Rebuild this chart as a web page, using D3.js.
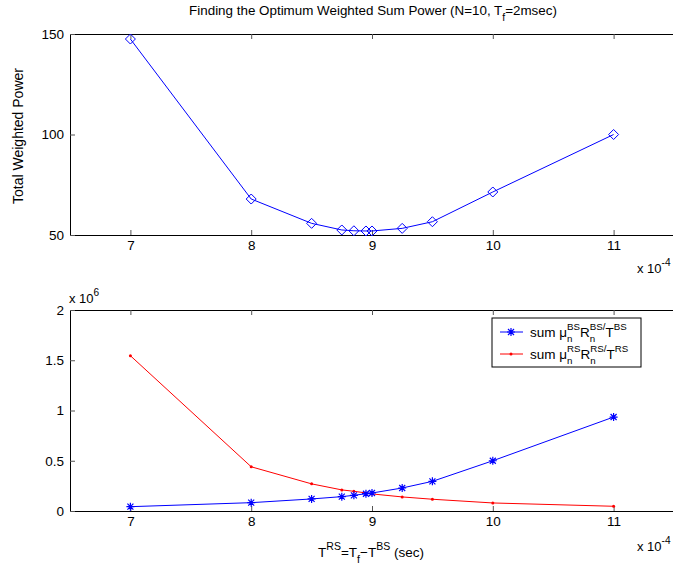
<!DOCTYPE html>
<html>
<head>
<meta charset="utf-8">
<script src="https://cdn.jsdelivr.net/npm/d3@7"></script>
<style>
  body { margin: 0; background: #fff; }
  svg { font-family: "Liberation Sans", Arial, sans-serif; }
  .tick line { stroke: #555; }
</style>
</head>
<body>
<svg width="673" height="569"></svg>
<script>
// x values are in units of 1e-4 sec
var tRS = [7, 8, 8.5, 8.75, 8.85, 8.95, 9, 9.25, 9.5, 10, 11];
var totalPower = [147.5, 67.9, 55.8, 52.5, 52.1, 52.0, 52.0, 53.3, 56.6, 71.4, 100];
// bottom plot, units of 1e6
var sumBS = [0.043, 0.083, 0.12, 0.143, 0.156, 0.172, 0.179, 0.229, 0.295, 0.5, 0.935];
var sumRS = [1.545, 0.44, 0.27, 0.21, 0.196, 0.18, 0.17, 0.14, 0.117, 0.08, 0.047];
var xTicks = [7, 8, 9, 10, 11];
var topYTicks = [50, 100, 150];
var botYTicks = [0, 0.5, 1, 1.5, 2];

var svg = d3.select("svg");
var left = 70, right = 674;

var x = d3.scaleLinear().domain([6.5, 11.5]).range([left, right]);
var y1 = d3.scaleLinear().domain([50, 150]).range([235, 34]);
var y2 = d3.scaleLinear().domain([0, 2]).range([511, 310]);

function frame(y, yTicks, fmt) {
    var g = svg.append("g");
    var yr = y.range();
    g.append("g").attr("transform", "translate(0," + yr[0] + ")")
        .call(d3.axisBottom(x).tickValues(xTicks).tickSizeInner(-5).tickSizeOuter(0).tickPadding(5).tickFormat(d3.format("d")));
    g.append("g").attr("transform", "translate(0," + yr[1] + ")")
        .call(d3.axisTop(x).tickValues(xTicks).tickSizeInner(-5).tickSizeOuter(0).tickFormat(""));
    g.append("g").attr("transform", "translate(" + left + ",0)")
        .call(d3.axisLeft(y).tickValues(yTicks).tickSizeInner(-5).tickSizeOuter(0).tickPadding(6).tickFormat(fmt));
    g.selectAll(".domain").attr("stroke", "#000").attr("stroke-width", 1);
    g.selectAll("text").attr("font-size", 13.5).attr("fill", "#000")
        .attr("font-family", "Liberation Sans, Arial, sans-serif");
    return g;
}

frame(y1, topYTicks, d3.format("d"));
frame(y2, botYTicks, function(d) { return d; });

// top plot
svg.append("path").datum(tRS)
    .attr("fill", "none").attr("stroke", "blue").attr("stroke-width", 1)
    .attr("d", d3.line().x(function(d) { return x(d); }).y(function(d, i) { return y1(totalPower[i]); }));
svg.append("g").selectAll("path").data(tRS).enter().append("path")
    .attr("transform", function(d, i) { return "translate(" + x(d) + "," + y1(totalPower[i]) + ")"; })
    .attr("d", "M0,-5L5,0L0,5L-5,0Z")
    .attr("fill", "none").attr("stroke", "blue").attr("stroke-width", 1);

// bottom plot
function star(g) {
    g.append("path").attr("d", "M-4,0H4M0,-4V4M-3,-3L3,3M-3,3L3,-3")
        .attr("stroke", "blue").attr("stroke-width", 1.2);
}
svg.append("path").datum(tRS)
    .attr("fill", "none").attr("stroke", "red").attr("stroke-width", 1)
    .attr("d", d3.line().x(function(d) { return x(d); }).y(function(d, i) { return y2(sumRS[i]); }));
svg.append("g").selectAll("circle").data(tRS).enter().append("circle")
    .attr("cx", function(d) { return x(d); })
    .attr("cy", function(d, i) { return y2(sumRS[i]); })
    .attr("r", 1.5).attr("fill", "red");
svg.append("path").datum(tRS)
    .attr("fill", "none").attr("stroke", "blue").attr("stroke-width", 1)
    .attr("d", d3.line().x(function(d) { return x(d); }).y(function(d, i) { return y2(sumBS[i]); }));
svg.append("g").selectAll("g").data(tRS).enter().append("g")
    .attr("transform", function(d, i) { return "translate(" + x(d) + "," + y2(sumBS[i]) + ")"; })
    .each(function() { star(d3.select(this)); });

// text with super/subscripts, laid out piece by piece
function rich(g, x0, y0, size, parts, ratio, supUp, subDown) {
    var cx = x0, small = size * (ratio || 0.78);
    supUp = supUp || 0.55;
    subDown = subDown || 0.45;
    parts.forEach(function(p) {
        var t = g.append("text").attr("x", cx).attr("y", y0).attr("font-size", size).text(p.t);
        cx += t.node().getComputedTextLength();
        var w = 0;
        if (p.sup) {
            var s = g.append("text").attr("x", cx).attr("y", y0 - size * supUp).attr("font-size", small).text(p.sup);
            w = Math.max(w, s.node().getComputedTextLength());
        }
        if (p.sub) {
            var b = g.append("text").attr("x", cx).attr("y", y0 + size * subDown).attr("font-size", small).text(p.sub);
            w = Math.max(w, b.node().getComputedTextLength());
        }
        cx += w;
    });
    return cx - x0;
}

// title and labels
var tg = svg.append("g");
var tw = rich(tg, 0, 15, 13.4, [{t: "Finding the Optimum Weighted Sum Power (N=10, T", sub: "f"}, {t: "=2msec)"}]);
tg.attr("transform", "translate(" + (373 - tw / 2) + ",0)");

svg.append("text").attr("transform", "translate(23,136) rotate(-90)")
    .attr("text-anchor", "middle").attr("font-size", 14).text("Total Weighted Power");

rich(svg, 637, 273, 13, [{t: "x 10", sup: "-4"}]);
rich(svg, 637, 551, 13, [{t: "x 10", sup: "-4"}]);
rich(svg, 69, 303, 13, [{t: "x 10", sup: "6"}]);

var xg = svg.append("g");
var xw = rich(xg, 0, 557, 13.5, [{t: "T", sup: "RS"}, {t: "=T", sub: "f"}, {t: "\u2212T", sup: "BS"}, {t: "\u00a0(sec)"}]);
xg.attr("transform", "translate(" + (371 - xw / 2) + ",0)");

// legend
var lg = svg.append("g");
lg.append("rect").attr("x", 492).attr("y", 318).attr("width", 149).attr("height", 49)
    .attr("fill", "#fff").attr("stroke", "#000").attr("stroke-width", 1);
var names = ["BS", "RS"];
var colors = ["blue", "red"];
names.forEach(function(nm, i) {
    var ly = 332 + i * 22;
    lg.append("line").attr("x1", 500).attr("x2", 523).attr("y1", ly).attr("y2", ly)
        .attr("stroke", colors[i]).attr("stroke-width", 1);
    if (i === 0) {
        star(lg.append("g").attr("transform", "translate(511," + ly + ")"));
    } else {
        lg.append("circle").attr("cx", 511).attr("cy", ly).attr("r", 1.5).attr("fill", "red");
    }
    rich(lg, 530, ly + 5, 13.5, [{t: "sum \u03bc", sup: nm, sub: "n"}, {t: "R", sup: nm + "/", sub: "n"}, {t: "T", sup: nm}],
        0.72, 0.5, 0.35);
});
</script>
</body>
</html>
